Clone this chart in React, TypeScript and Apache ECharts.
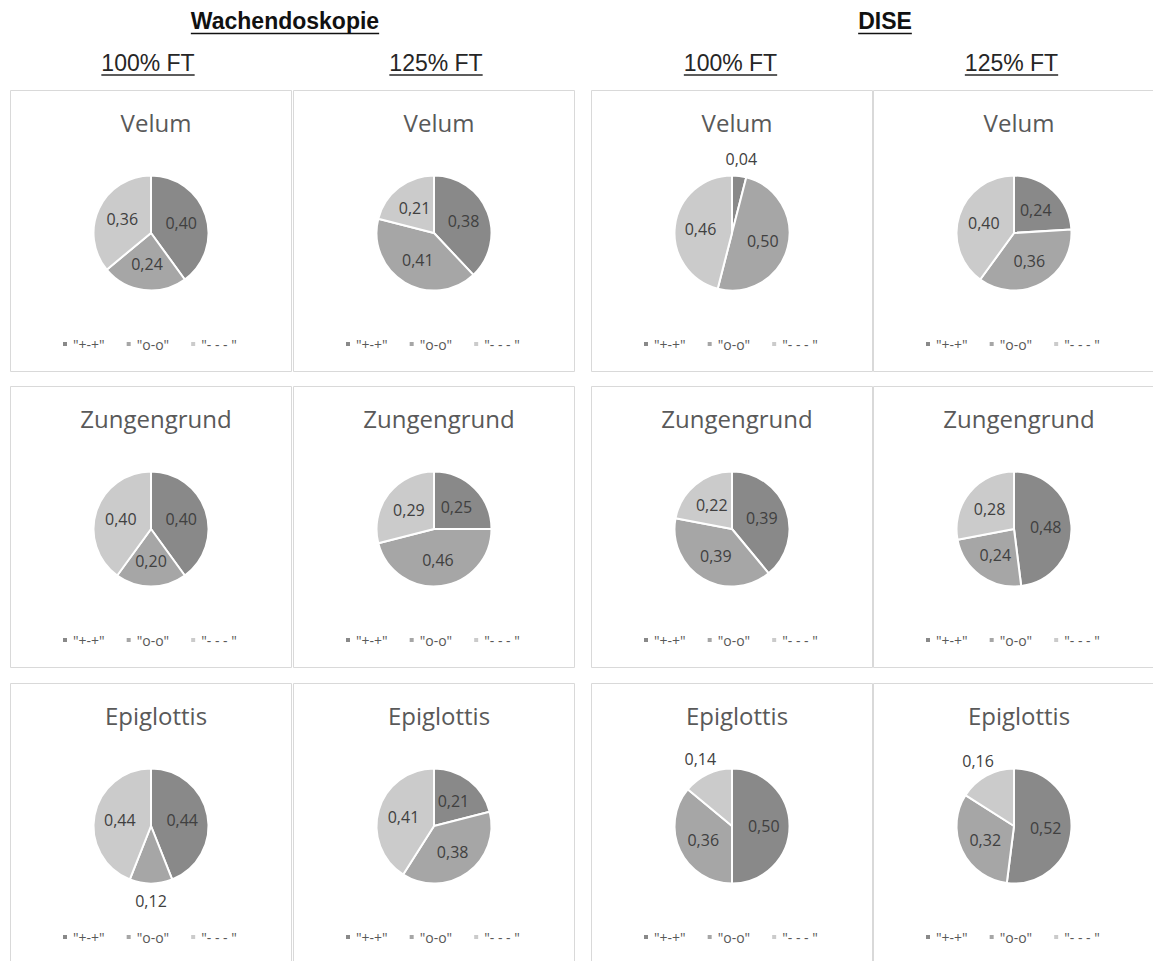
import React, { useEffect, useRef } from "react";
import * as echarts from "echarts";

// Category names shown in every legend
const categories = ['"+-+"', '"o-o"', '"- - - "'];
// Anatomical regions, one per row
const regions = ["Velum", "Zungengrund", "Epiglottis"];
// Examination groups and their sub-conditions
const groups = ["Wachendoskopie", "DISE"];
const conditions = ["100% FT", "125% FT"];

// Shares per region (Velum, Zungengrund, Epiglottis) in order "+-+", "o-o", "- - - "
const wach100 = [
  [0.4, 0.24, 0.36],
  [0.4, 0.2, 0.4],
  [0.44, 0.12, 0.44],
];
const wach125 = [
  [0.38, 0.41, 0.21],
  [0.25, 0.46, 0.29],
  [0.21, 0.38, 0.41],
];
const dise100 = [
  [0.04, 0.5, 0.46],
  [0.39, 0.39, 0.22],
  [0.5, 0.36, 0.14],
];
const dise125 = [
  [0.24, 0.36, 0.4],
  [0.48, 0.24, 0.28],
  [0.52, 0.32, 0.16],
];

const columns = [wach100, wach125, dise100, dise125];

const W = 1153;
const H = 961;
const COL_X = [10, 293, 591, 873];
const ROW_Y = [90, 386, 683];
const PANEL = 282;
const SLICE_COLORS = ["#898989", "#a6a6a6", "#cbcbcb"];
const SMALL_SHARE = 0.18;

const HEAD_FONT = '"Liberation Sans", Arial, sans-serif';
const BODY_FONT = '"Open Sans", "Noto Sans", sans-serif';

function measure(text: string, font: string): number {
  const c = document.createElement("canvas");
  const ctx = c.getContext("2d");
  if (!ctx) return text.length * 10;
  ctx.font = font;
  return ctx.measureText(text).width;
}

const fmt = (v: number) => v.toFixed(2).replace(".", ",");

// Centered header text with an underline below it
function header(text: string, cx: number, cy: number, underlineY: number, bold: boolean, color: string): any[] {
  const font = `${bold ? "bold " : ""}23px ${HEAD_FONT}`;
  const w = measure(text, font);
  return [
    {
      type: "text",
      x: cx,
      y: cy,
      style: {
        text,
        font,
        fill: color,
        textAlign: "center",
        textVerticalAlign: "middle",
        align: "center",
        verticalAlign: "middle",
      },
    },
    {
      type: "line",
      shape: { x1: cx - w / 2, y1: underlineY, x2: cx + w / 2, y2: underlineY },
      style: { stroke: color, lineWidth: bold ? 1.7 : 1.3 },
    },
  ];
}

export default function App() {
  const ref = useRef<HTMLDivElement>(null);

  useEffect(() => {
    if (!ref.current) return;
    const chart = echarts.init(ref.current, null, { renderer: "svg" });

    const titles: any[] = [];
    const legends: any[] = [];
    const series: any[] = [];
    const graphics: any[] = [];

    const groupCenters = [285, 885];
    const condCenters = [148, 436, 730.5, 1011.5];
    groups.forEach((g, gi) => {
      graphics.push(...header(g, groupCenters[gi], 21, 33.5, true, "#111"));
      conditions.forEach((c, ci) => {
        graphics.push(...header(c, condCenters[gi * 2 + ci], 62.5, 75, false, "#262626"));
      });
    });

    columns.forEach((col, ci) => {
      const px = COL_X[ci];
      regions.forEach((region, ri) => {
        const py = ROW_Y[ri];
        const cx = px + PANEL / 2;

        graphics.push({
          type: "rect",
          z: -10,
          shape: { x: px + 0.5, y: py + 0.5, width: PANEL - 1, height: PANEL - 1 },
          style: { fill: "none", stroke: "#d9d9d9", lineWidth: 1 },
        });

        titles.push({
          text: region,
          left: cx,
          top: py + 15,
          textAlign: "center",
          textStyle: { fontFamily: BODY_FONT, fontSize: 24, fontWeight: "normal", color: "#595959" },
        });

        legends.push({
          data: categories,
          left: px + 51,
          top: py + 247,
          padding: 0,
          icon: "rect",
          itemWidth: 6,
          itemHeight: 6,
          itemGap: 20,
          selectedMode: false,
          textStyle: { fontFamily: BODY_FONT, fontSize: 14, color: "#595959" },
        });

        const values = col[ri];
        series.push({
          type: "pie",
          name: `${region} ${ci}`,
          center: [cx, py + 143],
          radius: 57.5,
          startAngle: 90,
          clockwise: true,
          avoidLabelOverlap: false,
          itemStyle: { borderColor: "#fff", borderWidth: 2 },
          label: {
            show: true,
            position: "inside",
            formatter: (p: any) => fmt(p.value),
            fontFamily: BODY_FONT,
            fontSize: 16,
            color: "#404040",
          },
          labelLine: { show: false },
          labelLayout: () => ({ align: "center", verticalAlign: "middle" }),
          emphasis: { disabled: true },
          data: values.map((v, i) => {
            const item: any = { name: categories[i], value: v };
            if (v < SMALL_SHARE) {
              item.label = { position: "outside", distanceToLabelLine: 0 };
              item.labelLine = { show: false, length: 17, length2: 0 };
            }
            return item;
          }),
        });
      });
    });

    chart.setOption({
      animation: false,
      backgroundColor: "#ffffff",
      color: SLICE_COLORS,
      title: titles,
      legend: legends,
      series,
      graphic: graphics,
    });

    return () => chart.dispose();
  }, []);

  return (
    <div
      ref={ref}
      style={{ position: "absolute", left: 0, top: 0, width: W, height: H, background: "#fff" }}
    />
  );
}
